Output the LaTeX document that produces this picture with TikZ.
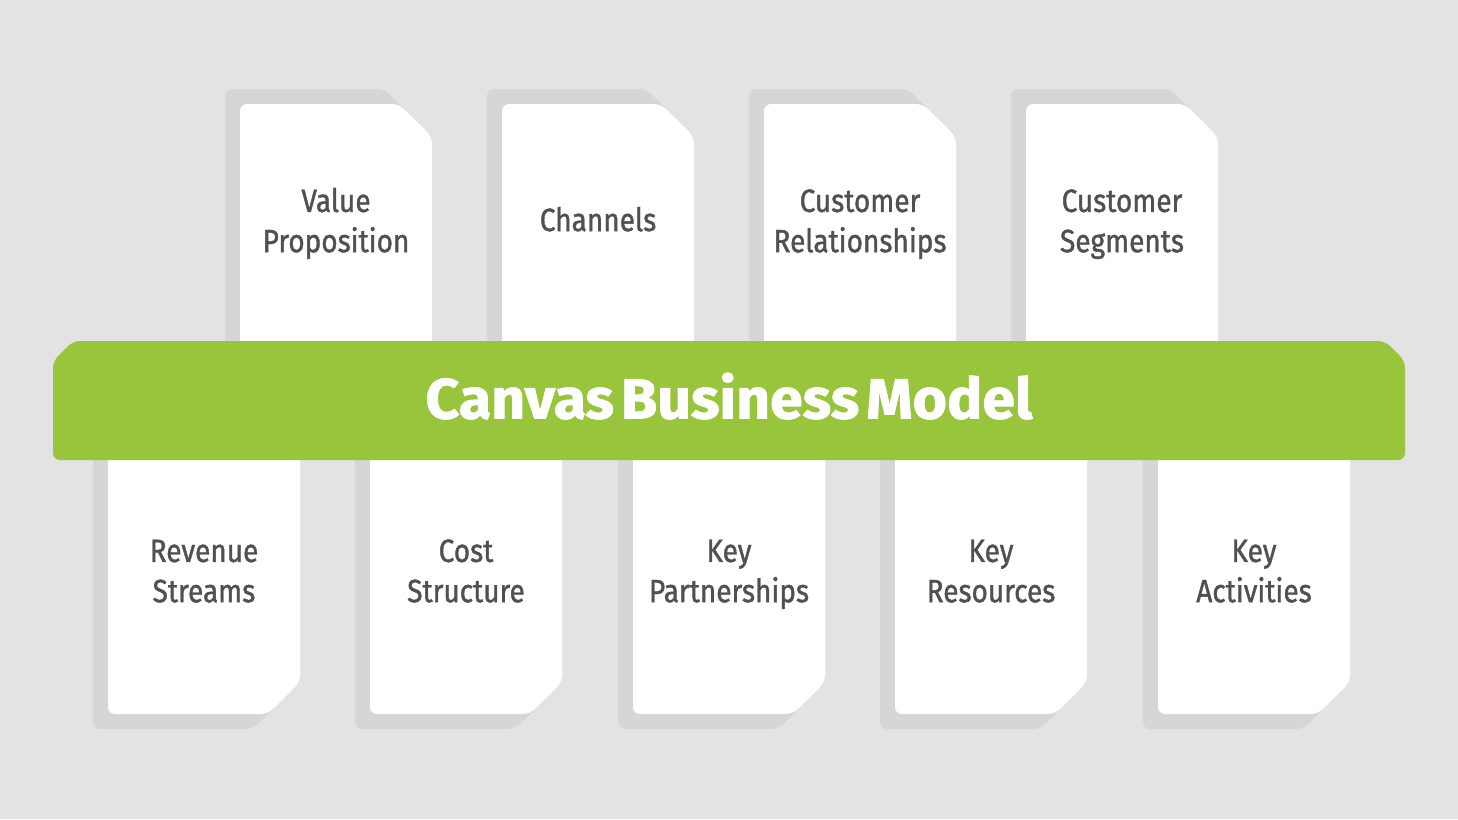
\documentclass[tikz,border=0pt]{standalone}
\usepackage{fontspec}
\setmainfont{Fira Sans}[FakeBold=1.3]
\newfontfamily\titlefont{Fira Sans}[BoldFeatures={FakeBold=1.5}]
\definecolor{bgc}{HTML}{E3E3E3}
\definecolor{shadowc}{HTML}{D6D6D6}
\definecolor{greenc}{HTML}{98C53C}
\definecolor{textc}{HTML}{505050}
\newcommand\mytopcard[1]{%
  \fill[shadowc,rounded corners=7pt,shift={(-15,-15)}] (#1,360) -- (#1,104) -- (#1+159,104) -- (#1+192,137) -- (#1+192,360) -- cycle;
  \fill[white,rounded corners=7pt] (#1,360) -- (#1,104) -- (#1+159,104) -- (#1+192,137) -- (#1+192,360) -- cycle;}
\newcommand\mybotcard[1]{%
  \fill[shadowc,rounded corners=7pt,shift={(-15,15)}] (#1,440) -- (#1,714) -- (#1+160,714) -- (#1+192,682) -- (#1+192,440) -- cycle;
  \fill[white,rounded corners=7pt] (#1,440) -- (#1,714) -- (#1+160,714) -- (#1+192,682) -- (#1+192,440) -- cycle;}
\newcommand\mylbl[1]{\scalebox{1}[1.15]{\fontsize{28}{35}\selectfont\begin{tabular}{@{}c@{}}#1\end{tabular}}}
\begin{document}
\begin{tikzpicture}[x=1pt,y=-1pt,
  lbl/.style={text=textc,inner sep=0pt}]
\fill[bgc] (0,0) rectangle (1458,819);
\useasboundingbox (0,0) rectangle (1458,819);
\mytopcard{240}\mytopcard{502}\mytopcard{764}\mytopcard{1026}
\mybotcard{108}\mybotcard{370}\mybotcard{633}\mybotcard{895}\mybotcard{1158}
\fill[greenc,rounded corners=7pt] (53,460) -- (53,361) -- (73,341) -- (1385,341) -- (1405,361) -- (1405,460) -- cycle;
\node[lbl] (vp) at (336,224) {\mylbl{Value\\Proposition}};
\node[lbl] (ch) at (598,223) {\mylbl{Channels}};
\node[lbl] (cr) at (860,224) {\mylbl{Customer\\Relationships}};
\node[lbl] (cs) at (1122,224) {\mylbl{Customer\\Segments}};
\node[lbl] (rs) at (204,574) {\mylbl{Revenue\\Streams}};
\node[lbl] (cst) at (466,574) {\mylbl{Cost\\Structure}};
\node[lbl] (kp) at (729,574) {\mylbl{Key\\Partnerships}};
\node[lbl] (kr) at (991,574) {\mylbl{Key\\Resources}};
\node[lbl] (ka) at (1254,574) {\mylbl{Key\\Activities}};
\node[text=white,inner sep=0pt] (title) at (729,396) {\resizebox{607pt}{46pt}{\titlefont\bfseries\fontsize{58}{60}\selectfont Canvas\hspace{0.12em}Business\hspace{0.12em}Model}};
\end{tikzpicture}
\end{document}
